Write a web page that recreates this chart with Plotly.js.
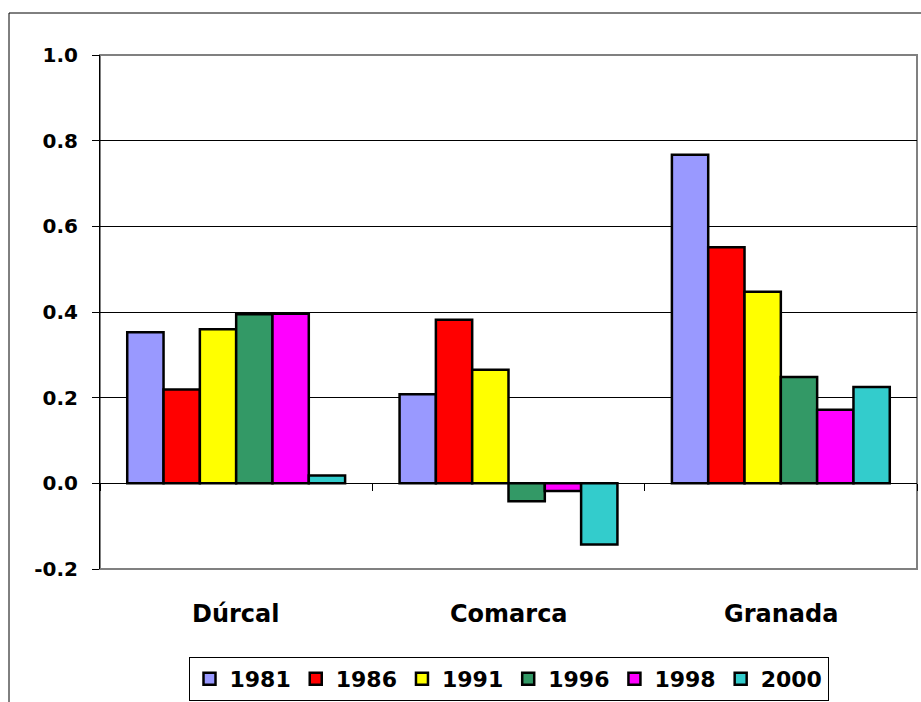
<!DOCTYPE html>
<html>
<head>
<meta charset="utf-8">
<script src="https://cdn.plot.ly/plotly-3.0.1.min.js"></script>
<style>html,body{margin:0;padding:0;background:#fff;}#chart{width:921px;height:702px;}</style>
</head>
<body>
<div id="chart"></div>
<script>
const categories = ["Dúrcal", "Comarca", "Granada"];
const years = ["1981", "1986", "1991", "1996", "1998", "2000"];
const v1981 = [0.353, 0.208, 0.767];
const v1986 = [0.219, 0.382, 0.551];
const v1991 = [0.360, 0.265, 0.447];
const v1996 = [0.395, -0.042, 0.248];
const v1998 = [0.396, -0.018, 0.172];
const v2000 = [0.018, -0.143, 0.225];
const yTicks = [-0.2, 0.0, 0.2, 0.4, 0.6, 0.8, 1.0];
const yTickLabels = ["-0.2", "0.0", "0.2", "0.4", "0.6", "0.8", "1.0"];

const seriesValues = [v1981, v1986, v1991, v1996, v1998, v2000];
const colors = ["#9999FF", "#FF0000", "#FFFF00", "#339966", "#FF00FF", "#33CCCC"];

const W = 921, H = 702;
const L = 100, R = 4, T = 55, B = 133;
const pw = W - L - R, ph = H - T - B;
const yMin = -0.2, yMax = 1.0;
const zeroFrac = (0 - yMin) / (yMax - yMin);

const font = "DejaVu Sans, Verdana, sans-serif";

const traces = years.map((yr, i) => ({
  type: "bar",
  name: yr,
  x: categories,
  y: seriesValues[i],
  marker: { color: colors[i], line: { color: "#000000", width: 2.5 } },
  hoverinfo: "x+y+name"
}));

const annotations = categories.map(c => ({
  x: c, xref: "x", y: (ph - (614 - T)) / ph, yref: "paper",
  text: c, showarrow: false, yanchor: "middle",
  font: { family: font, size: 24, color: "#000", weight: "bold" }
}));

const layout = {
  width: W, height: H,
  margin: { l: L, r: R, t: T, b: B, pad: 0, autoexpand: false },
  paper_bgcolor: "#ffffff",
  plot_bgcolor: "#ffffff",
  barmode: "group",
  bargap: 0.2,
  bargroupgap: 0,
  showlegend: true,
  legend: {
    orientation: "h",
    x: 0.5, xanchor: "center",
    y: (ph - (679 - T)) / ph, yanchor: "middle",
    bordercolor: "#000000", borderwidth: 1,
    bgcolor: "#ffffff",
    font: { family: font, size: 22, color: "#000", weight: "bold" },
    traceorder: "normal",
    itemwidth: 30,
    tracegroupgap: 0
  },
  xaxis: {
    type: "category",
    anchor: "free",
    position: zeroFrac,
    showline: true, linecolor: "#000000", linewidth: 1,
    ticks: "outside", tickson: "boundaries", ticklen: 7, tickcolor: "#000000", tickwidth: 1,
    showticklabels: false,
    showgrid: false, zeroline: false,
    fixedrange: true
  },
  yaxis: {
    range: [yMin, yMax],
    tickvals: yTicks,
    ticktext: yTickLabels,
    showline: true, linecolor: "#000000", linewidth: 1,
    ticks: "outside", ticklen: 7, tickcolor: "#000000",
    ticklabelstandoff: 10,
    showgrid: true, gridcolor: "#000000", gridwidth: 1,
    zeroline: false,
    tickfont: { family: font, size: 20, color: "#000", weight: "bold" },
    fixedrange: true
  },
  annotations: annotations,
  shapes: [
    { type: "rect", xref: "paper", yref: "paper", x0: 0, x1: 1, y0: 0, y1: 1,
      line: { color: "#808080", width: 2 }, layer: "below" },
    { type: "rect", xref: "paper", yref: "paper",
      x0: (9 - L) / pw, x1: (W + 20 - L) / pw,
      y0: -(H + 20 - T - ph) / ph, y1: 1 + (T - 13) / ph,
      line: { color: "#000000", width: 1 }, layer: "below" }
  ]
};

Plotly.newPlot("chart", traces, layout, { displayModeBar: false, staticPlot: true });
</script>
</body>
</html>
